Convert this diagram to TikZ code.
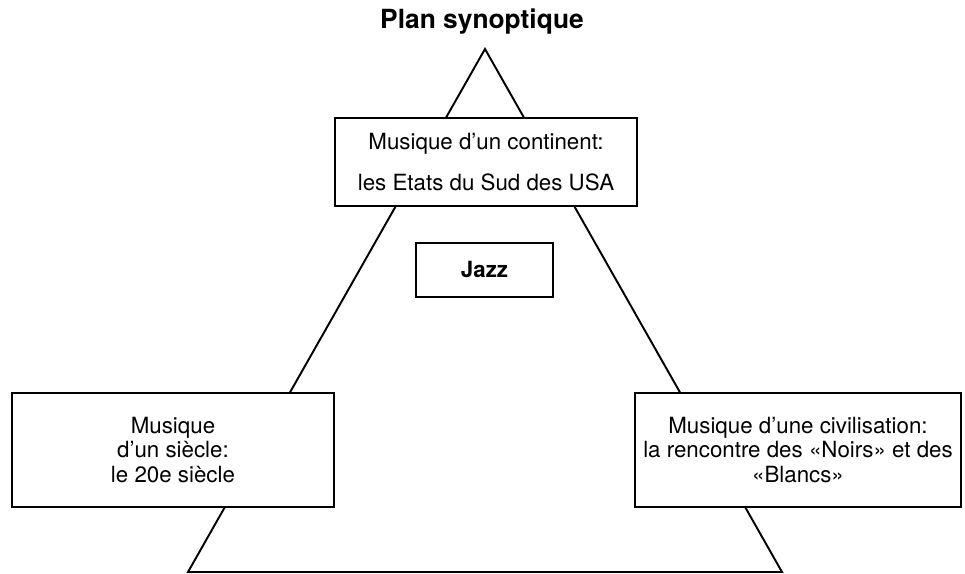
\documentclass[tikz,border=0pt]{standalone}
\usepackage{fontspec}
\setmainfont{TeX Gyre Heros}
\usepackage{tikz}
\usetikzlibrary{positioning}

\begin{document}
\begin{tikzpicture}[x=0.02cm,y=-0.02cm,line width=1.1pt,font=\fontsize{12.7}{14}\selectfont]
  \tikzstyle{box}=[draw,fill=white,align=center,inner sep=0pt]
  \useasboundingbox (0,0) rectangle (965,574);

  % the triangle, under the boxes
  \coordinate (apex) at (485,49);
  \coordinate (bl)   at (188,572);
  \coordinate (br)   at (782,572);
  \draw (apex) -- (bl) -- (br) -- cycle;

  \node (title) at (482,22) {\fontsize{15}{17}\selectfont\bfseries Plan synoptique};

  \node[box,minimum width=6.04cm,minimum height=1.76cm] (cont) at (486,162)
    {Musique d'un continent:\\[9pt] les Etats du Sud des USA};
  \node[box,minimum width=2.74cm,minimum height=1.08cm] (jazz) at (484.5,270) {\bfseries Jazz};
  \node[box,minimum width=6.44cm,minimum height=2.28cm] (siecle) at (173,450)
    {Musique\\ d'un siècle:\\ le 20e siècle};
  \node[box,minimum width=6.52cm,minimum height=2.28cm] (civ) at (798,450)
    {Musique d'une civilisation:\\ la rencontre des «Noirs» et des\\ «Blancs»};
\end{tikzpicture}
\end{document}
